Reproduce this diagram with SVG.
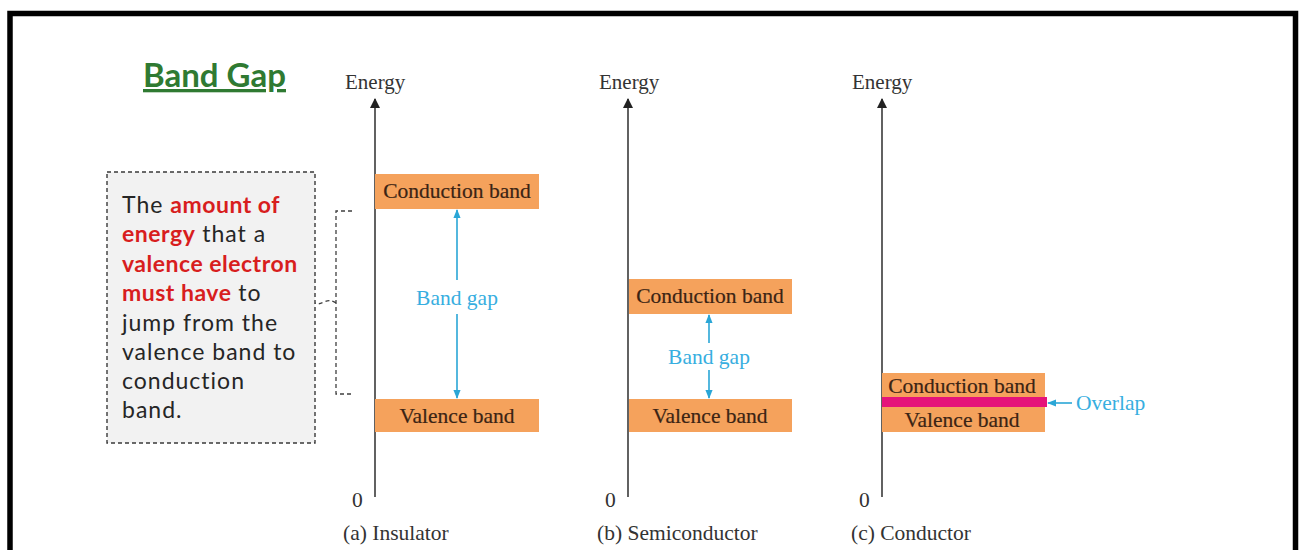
<svg xmlns="http://www.w3.org/2000/svg" width="1303" height="550" viewBox="0 0 1303 550">
<defs>
<style>
.axis{stroke:#3a3a3a;stroke-width:1.6;fill:none;}
.band{fill:#f5a25c;}
.bandtxt{font-family:"Liberation Serif",serif;font-size:21.5px;fill:#3b2414;stroke:#3b2414;stroke-width:0.2;text-anchor:middle;}
.lbl{font-family:"Liberation Serif",serif;font-size:21.5px;fill:#333;}
.energy{font-family:"Liberation Serif",serif;font-size:21px;fill:#333;}
.gap{stroke:#2aa6d6;stroke-width:1.6;fill:none;}
.gaptxt{font-family:"Liberation Serif",serif;font-size:21.5px;fill:#37aee0;text-anchor:middle;}
.box{font-family:Lato,"Open Sans",sans-serif;font-size:23px;fill:#262626;letter-spacing:1px;}
.red{fill:#d81e1e;font-weight:bold;letter-spacing:0.5px;}
</style>
<marker id="ah" viewBox="0 0 10 10" refX="9" refY="5" markerWidth="10" markerHeight="11" markerUnits="userSpaceOnUse" orient="auto-start-reverse">
<path d="M0,0 L10,5 L0,10 z" fill="#222"/>
</marker>
<marker id="bh" viewBox="0 0 10 10" refX="9" refY="5" markerWidth="9" markerHeight="9" markerUnits="userSpaceOnUse" orient="auto-start-reverse">
<path d="M0,1 L10,5 L0,9 z" fill="#2aa6d6"/>
</marker>
</defs>
<rect x="0" y="0" width="1303" height="550" fill="#fff"/>
<rect x="10" y="13.5" width="1285.5" height="560" fill="none" stroke="#000" stroke-width="5.5"/>

<g id="title">
<text x="143" y="87" font-family="Lato,'Open Sans',sans-serif" font-size="33" font-weight="bold" fill="#2f7a32" text-decoration="underline">Band Gap</text>
</g>

<g id="definition">
<rect x="107" y="172" width="208" height="271" fill="#f2f2f2" stroke="#3a3a3a" stroke-width="1.4" stroke-dasharray="4,3"/>
<text class="box" x="122" y="213">The <tspan class="red">amount of</tspan></text>
<text class="box" x="122" y="242"><tspan class="red">energy</tspan> that a</text>
<text class="box" x="122" y="272"><tspan class="red">valence electron</tspan></text>
<text class="box" x="122" y="301"><tspan class="red">must have</tspan> to</text>
<text class="box" x="122" y="331">jump from the</text>
<text class="box" x="122" y="360">valence band to</text>
<text class="box" x="122" y="389">conduction</text>
<text class="box" x="122" y="418">band.</text>
</g>

<g id="connectors">
<path d="M352,211 H336 V394 H352 M336,303 Q330,299 324,302 T315,303" fill="none" stroke="#3f3f3f" stroke-width="1.3" stroke-dasharray="4,3"/>
</g>

<g id="insulator">
<line class="axis" x1="375" y1="497" x2="375" y2="99" marker-end="url(#ah)"/>
<text class="energy" x="345" y="89">Energy</text>
<rect class="band" x="375" y="174" width="164" height="35"/>
<text class="bandtxt" x="457" y="198">Conduction band</text>
<rect class="band" x="375" y="399" width="164" height="33"/>
<text class="bandtxt" x="457" y="423">Valence band</text>
<line class="gap" x1="457" y1="280" x2="457" y2="210" marker-end="url(#bh)"/>
<line class="gap" x1="457" y1="314" x2="457" y2="398" marker-end="url(#bh)"/>
<text class="gaptxt" x="457" y="305">Band gap</text>
<text class="lbl" x="352" y="507">0</text>
<text class="lbl" x="343" y="540">(a) Insulator</text>
</g>

<g id="semiconductor">
<line class="axis" x1="628" y1="497" x2="628" y2="99" marker-end="url(#ah)"/>
<text class="energy" x="599" y="89">Energy</text>
<rect class="band" x="629" y="279" width="163" height="35"/>
<text class="bandtxt" x="710" y="303">Conduction band</text>
<rect class="band" x="629" y="399" width="163" height="33"/>
<text class="bandtxt" x="710" y="423">Valence band</text>
<line class="gap" x1="709" y1="343" x2="709" y2="315" marker-end="url(#bh)"/>
<line class="gap" x1="709" y1="370" x2="709" y2="398" marker-end="url(#bh)"/>
<text class="gaptxt" x="709" y="364">Band gap</text>
<text class="lbl" x="605" y="507">0</text>
<text class="lbl" x="597" y="540">(b) Semiconductor</text>
</g>

<g id="conductor">
<line class="axis" x1="882" y1="497" x2="882" y2="99" marker-end="url(#ah)"/>
<text class="energy" x="852" y="89">Energy</text>
<rect class="band" x="882" y="373" width="163" height="59"/>
<rect x="882" y="397" width="165" height="10" fill="#e5137a"/>
<text class="bandtxt" x="962" y="393">Conduction band</text>
<text class="bandtxt" x="962" y="427">Valence band</text>
<line class="gap" x1="1072" y1="403" x2="1048" y2="403" marker-end="url(#bh)"/>
<text class="gaptxt" x="1076" y="410" style="text-anchor:start">Overlap</text>
<text class="lbl" x="859" y="507">0</text>
<text class="lbl" x="851" y="540">(c) Conductor</text>
</g>
</svg>
